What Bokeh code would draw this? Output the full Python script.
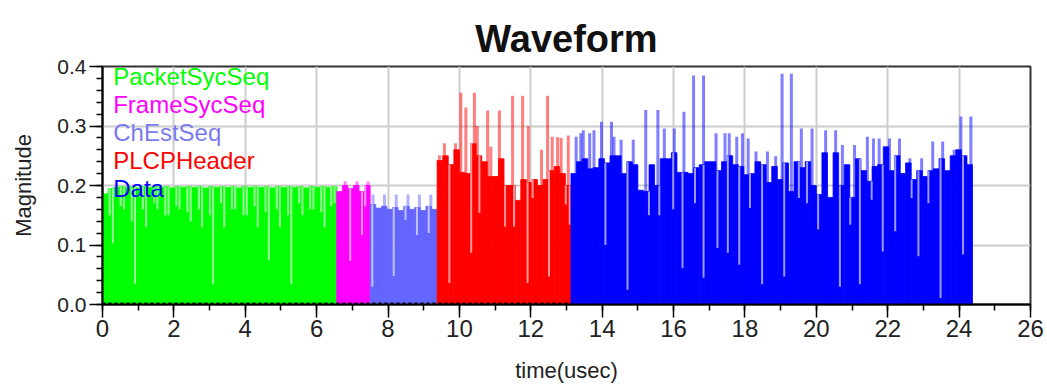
from bokeh.plotting import figure
from bokeh.models import Range1d, SingleIntervalTicker, PrintfTickFormatter, Label
from bokeh.embed import file_html
from bokeh.resources import INLINE

# ---------------- data ----------------
seg_names = ["PacketSycSeq", "FrameSycSeq", "ChEstSeq", "PLCPHeader", "Data"]
seg_start = [0.0, 6.5625, 7.5, 9.375, 13.125]
col_step = 0.15625  # usec per envelope column

packet_level = [0.186, 0.195, 0.197, 0.198, 0.197, 0.198, 0.196, 0.198, 0.197, 0.198,
                0.197, 0.198, 0.196, 0.198, 0.197, 0.198, 0.197, 0.198, 0.196, 0.198,
                0.197, 0.198, 0.197, 0.198, 0.196, 0.198, 0.197, 0.198, 0.197, 0.198,
                0.196, 0.198, 0.197, 0.198, 0.197, 0.198, 0.196, 0.198, 0.197, 0.198,
                0.197, 0.198]
packet_spk_t = []
packet_spk_v = []
packet_nch_t = [0.29, 0.60, 0.91, 1.22, 1.54, 1.85, 2.16, 2.47, 2.79, 3.10, 3.41,
                3.72, 4.04, 4.35, 4.66, 4.97, 5.29, 5.60, 5.91, 6.22, 6.50,
                0.20, 0.51, 0.82, 1.13, 1.45, 1.76, 2.07, 2.38, 2.70, 3.01, 3.32,
                3.63, 3.95, 4.26, 4.57, 4.88, 5.20, 5.51, 5.82, 6.13, 6.41]
packet_nch_v = [0.103, 0.16, 0.035, 0.13, 0.16, 0.15, 0.16, 0.14, 0.13, 0.035, 0.13,
                0.16, 0.15, 0.13, 0.075, 0.13, 0.035, 0.15, 0.16, 0.13, 0.17,
                0.15, 0.165, 0.14, 0.16, 0.17, 0.15, 0.165, 0.155, 0.16, 0.15, 0.17,
                0.16, 0.15, 0.165, 0.155, 0.16, 0.15, 0.17, 0.16, 0.155, 0.165]

frame_level = [0.19, 0.2, 0.195, 0.2, 0.19, 0.2]
frame_spk_t = [6.80, 7.13, 7.44]
frame_spk_v = [0.207, 0.207, 0.207]
frame_nch_t = [6.94, 7.27, 7.36]
frame_nch_v = [0.073, 0.117, 0.165]

chest_level = [0.168, 0.162, 0.165, 0.16, 0.163, 0.158, 0.165, 0.16, 0.163, 0.158, 0.165, 0.16]
chest_spk_t = [7.58, 7.90, 8.23, 8.56, 8.88, 9.20]
chest_spk_v = [0.185, 0.185, 0.185, 0.185, 0.185, 0.185]
chest_nch_t = [7.56, 8.16, 8.49, 8.81, 9.14]
chest_nch_v = [0.03, 0.048, 0.142, 0.117, 0.12]

plcp_level = [0.242, 0.25, 0.235, 0.26, 0.222, 0.22, 0.27, 0.25, 0.24, 0.215,
              0.215, 0.245, 0.2, 0.2, 0.175, 0.21, 0.205, 0.21, 0.2, 0.21,
              0.225, 0.232, 0.22, 0.2]
plcp_spk_t = [9.44, 9.58, 9.89, 10.04, 10.18, 10.42, 10.50, 10.79, 10.88, 11.12,
              11.49, 11.77, 11.93, 12.30, 12.47, 12.60, 12.75, 12.85, 13.05]
plcp_spk_v = [0.251, 0.271, 0.271, 0.356, 0.331, 0.356, 0.30, 0.326, 0.265, 0.326,
              0.351, 0.351, 0.30, 0.26, 0.351, 0.282, 0.281, 0.28, 0.284]
plcp_nch_t = [9.72, 10.33, 10.56, 11.28, 11.53, 11.91, 12.05, 12.51, 12.98, 13.09]
plcp_nch_v = [0.036, 0.087, 0.154, 0.131, 0.131, 0.036, 0.179, 0.047, 0.168, 0.134]

data_level = [0.22, 0.24, 0.245, 0.228, 0.23, 0.245, 0.238, 0.25, 0.25, 0.22,
              0.24, 0.235, 0.192, 0.19, 0.235, 0.2, 0.245, 0.245, 0.255, 0.222,
              0.222, 0.22, 0.23, 0.235,
              0.24, 0.24, 0.225, 0.24, 0.25, 0.235, 0.232, 0.218, 0.22, 0.24,
              0.235, 0.205, 0.232, 0.21, 0.238, 0.19, 0.24, 0.23, 0.24, 0.2,
              0.185, 0.255, 0.18, 0.255,
              0.2, 0.235, 0.18, 0.245, 0.225, 0.207, 0.232, 0.235, 0.265, 0.225,
              0.25, 0.22, 0.238, 0.21, 0.225, 0.215, 0.225, 0.228, 0.245, 0.225,
              0.25, 0.26, 0.25, 0.235]
data_spk_t = [13.27, 13.40, 13.47, 13.65, 13.77, 13.98, 14.26, 14.33, 14.53, 14.87,
              15.22, 15.56, 15.74, 16.02, 16.29, 16.56, 16.84, 17.19, 17.44, 17.56,
              17.77, 17.93, 18.09, 18.31, 18.63, 18.86, 19.04, 19.30, 19.58, 19.88,
              20.26, 20.54, 20.73, 21.07, 21.43, 21.60, 21.76, 22.05, 22.33, 22.62,
              22.95, 23.26, 23.54, 23.86, 24.05, 24.33]
data_spk_v = [0.282, 0.288, 0.293, 0.288, 0.293, 0.307, 0.307, 0.282, 0.277, 0.277,
              0.327, 0.327, 0.296, 0.296, 0.324, 0.385, 0.385, 0.288, 0.288, 0.288,
              0.282, 0.288, 0.279, 0.257, 0.257, 0.249, 0.388, 0.388, 0.296, 0.296,
              0.293, 0.293, 0.268, 0.268, 0.282, 0.279, 0.279, 0.279, 0.279, 0.246,
              0.246, 0.274, 0.274, 0.26, 0.316, 0.316]
data_nch_t = [14.09, 14.71, 15.31, 15.60, 15.99, 16.25, 16.60, 16.84, 17.23, 17.52,
              17.84, 18.14, 18.48, 19.10, 19.51, 19.74, 20.05, 20.66, 20.95, 21.22,
              21.55, 21.86, 22.21, 22.67, 22.86, 23.14, 23.48, 24.11]
data_nch_v = [0.10, 0.025, 0.15, 0.15, 0.16, 0.061, 0.17, 0.045, 0.095, 0.087,
              0.067, 0.162, 0.034, 0.047, 0.179, 0.17, 0.126, 0.03, 0.134, 0.034,
              0.176, 0.089, 0.123, 0.179, 0.081, 0.17, 0.011, 0.084]

x_label = "time(usec)"
y_label = "Magnitude"
title_text = "Waveform"

# ---------------- styles ----------------
fill_colors = ["#00ff00", "#ff00ff", "#6464ff", "#ff0000", "#0000ff"]
text_colors = ["#00ff00", "#ff00ff", "#7b7bef", "#ff0000", "#0000ff"]
FONT = "Liberation Sans"

levels = [packet_level, frame_level, chest_level, plcp_level, data_level]
spikes = [(packet_spk_t, packet_spk_v), (frame_spk_t, frame_spk_v), (chest_spk_t, chest_spk_v),
          (plcp_spk_t, plcp_spk_v), (data_spk_t, data_spk_v)]
notches = [(packet_nch_t, packet_nch_v), (frame_nch_t, frame_nch_v), (chest_nch_t, chest_nch_v),
           (plcp_nch_t, plcp_nch_v), (data_nch_t, data_nch_v)]

p = figure(width=1047, height=385, output_backend="svg", toolbar_location=None,
           x_range=Range1d(0, 26), y_range=Range1d(0, 0.4),
           min_border_left=102, min_border_right=17, min_border_top=66, min_border_bottom=81,
           background_fill_color="white", border_fill_color="white")

p.title.text = title_text
p.title.align = "center"
p.title.vertical_align = "middle"
p.title.text_font = FONT
p.title.text_font_size = "38px"
p.title.text_font_style = "bold"
p.title.text_color = "#111111"
p.title.standoff = 12

for k in range(len(seg_names)):
    start = seg_start[k]
    lv = levels[k]
    xs = [start + (i + 0.5) * col_step for i in range(len(lv))]
    st, sv = spikes[k]
    if st:
        p.segment(x0=st, y0=[0] * len(st), x1=st, y1=sv, line_color=fill_colors[k],
                  line_alpha=0.5, line_width=3)
    p.vbar(x=xs, width=col_step, top=lv, bottom=0, fill_color=fill_colors[k],
           line_color=fill_colors[k], line_width=0.8)
    nt, nv = notches[k]
    tops = [lv[min(len(lv) - 1, max(0, int((t - start) / col_step)))] for t in nt]
    p.segment(x0=nt, y0=nv, x1=nt, y1=tops, line_color="white", line_alpha=0.6, line_width=2)

# dashed baseline under the first segments
p.line(x=[seg_start[0], seg_start[4]], y=[0.002, 0.002], line_color="black",
       line_dash="3 3", line_width=1.5)

# legend-like labels
for k, name in enumerate(seg_names):
    p.add_layout(Label(x=0.30, y=0.3826 - 0.047 * k, text=name, text_color=text_colors[k],
                       text_font=FONT, text_font_size="24px", text_baseline="middle"))

for ax in (p.xaxis[0], p.yaxis[0]):
    ax.axis_line_color = "black"
    ax.axis_line_width = 2
    ax.major_tick_line_color = "black"
    ax.minor_tick_line_color = "black"
    ax.major_tick_line_width = 1.5
    ax.minor_tick_line_width = 1.5
    ax.major_tick_in = 0
    ax.minor_tick_in = 0
    ax.major_tick_out = 13
    ax.minor_tick_out = 6
    ax.major_label_text_font = FONT
    ax.major_label_text_color = "#222222"
    ax.axis_label_text_font = FONT
    ax.axis_label_text_font_style = "normal"
    ax.axis_label_text_color = "#222222"
    ax.axis_label_text_font_size = "22px"

p.xaxis.ticker = SingleIntervalTicker(interval=2, num_minor_ticks=2)
p.yaxis.ticker = SingleIntervalTicker(interval=0.1, num_minor_ticks=5)
p.yaxis.formatter = PrintfTickFormatter(format="%.1f")
p.xaxis.major_label_text_font_size = "24px"
p.yaxis.major_label_text_font_size = "21px"
p.xaxis.major_label_standoff = 2
p.yaxis.major_label_standoff = 3
p.xaxis.axis_label = x_label
p.yaxis.axis_label = y_label
p.xaxis.axis_label_standoff = 18
p.yaxis.axis_label_standoff = 18

p.xgrid.grid_line_color = "#cccccc"
p.ygrid.grid_line_color = "#cccccc"
p.xgrid.grid_line_width = 2
p.ygrid.grid_line_width = 2
p.outline_line_color = "#333333"
p.outline_line_width = 2

open("out.html", "w").write(file_html(p, INLINE, title="Waveform"))
